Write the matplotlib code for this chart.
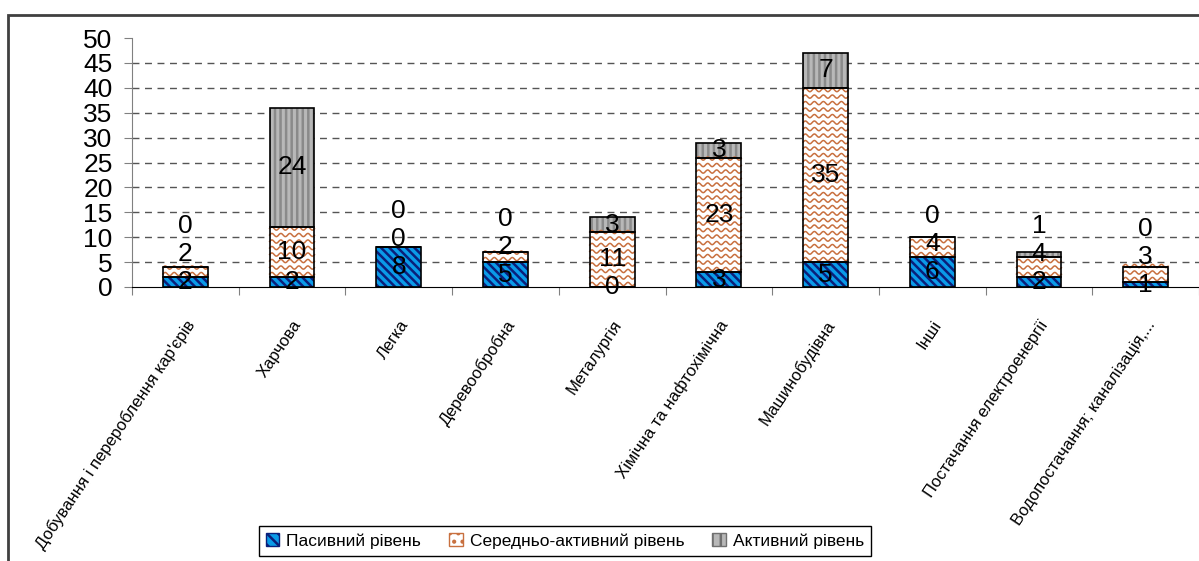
import numpy as np
import matplotlib.pyplot as plt
from matplotlib.patches import Patch, Rectangle

plt.rcParams['font.family'] = ['Liberation Sans', 'DejaVu Sans']
plt.rcParams['hatch.linewidth'] = 1.8

# chart data
categories = ["Добування і перероблення кар'єрів", "Харчова", "Легка", "Деревообробна",
              "Металургія", "Хімічна та нафтохімічна", "Машинобудівна", "Інші",
              "Постачання електроенергії", "Водопостачання; каналізація,..."]
passive = [2, 2, 8, 5, 0, 3, 5, 6, 2, 1]
medium = [2, 10, 0, 2, 11, 23, 35, 4, 4, 3]
active = [0, 24, 0, 0, 3, 3, 7, 0, 1, 0]
series_names = ['Пасивний рівень', 'Середньо-активний рівень', 'Активний рівень']

W, H = 1199, 561
fig = plt.figure(figsize=(W / 100, H / 100), dpi=100)
ax_l, ax_r, ax_t, ax_b = 132, 1199, 38, 287
ax = fig.add_axes([ax_l / W, 1 - ax_b / H, (ax_r - ax_l) / W, (ax_b - ax_t) / H])

# outer frame of the chart area
fig.add_artist(Rectangle((8 / W, -0.05), 1.0, 1 - 15 / H + 0.05, fill=False,
                         lw=2, ec='#404040', transform=fig.transFigure, clip_on=False))

x = np.arange(len(categories))
bw = 0.42
passive = np.array(passive)
medium = np.array(medium)
active = np.array(active)
bottom2 = passive
bottom3 = passive + medium

blue, navy = '#0A9BE8', '#0A1F7A'
wave_col = '#C8703F'

ax.bar(x, passive, bw, color=blue, edgecolor=navy, hatch='\\\\\\\\', linewidth=0, zorder=2)
mid_bars = ax.bar(x, medium, bw, bottom=bottom2, color='white', linewidth=0, zorder=2)
ax.bar(x, active, bw, bottom=bottom3, color='#B8B8B8', edgecolor='#8A8A8A',
       hatch='|||', linewidth=0, zorder=2)

# wavy texture for the middle segments
px_x = (ax_r - ax_l) / 10
px_y = (ax_b - ax_t) / 50
for rect in mid_bars:
    x0, y0 = rect.get_x(), rect.get_y()
    w, h = rect.get_width(), rect.get_height()
    if h <= 0:
        continue
    xs = np.linspace(x0, x0 + w, 80)
    phase = 2 * np.pi * (xs - x0) * px_x / 9.0
    for yy in np.arange(y0 + 3 / px_y, y0 + h + 2 / px_y, 6.5 / px_y):
        ax.plot(xs, yy + 1.6 / px_y * np.sin(phase), color=wave_col, lw=1.1,
                zorder=2.5, clip_path=rect)

# outlines
for vals, bot in [(passive, 0), (medium, bottom2), (active, bottom3)]:
    ax.bar(x, vals, bw, bottom=bot, fill=False, edgecolor='black', lw=1.2, zorder=3)

# data labels, pushed up when they overlap
min_gap = 5.6
for i in range(len(x)):
    vals = [passive[i], medium[i], active[i]]
    bots = [0, bottom2[i], bottom3[i]]
    pos = [b + v / 2 for b, v in zip(bots, vals)]
    for k in range(1, 3):
        if pos[k] - pos[k - 1] < min_gap:
            pos[k] = pos[k - 1] + min_gap
    for v, p in zip(vals, pos):
        ax.text(x[i], p, str(v), ha='center', va='center', fontsize=19, zorder=5)

# grid
ax.hlines(np.arange(5, 50, 5), -0.5, 9.5, colors='#555555',
          linestyles=(0, (5, 4)), lw=1, zorder=1)

ax.set_xlim(-0.5, 9.5)
ax.set_ylim(0, 50)
ax.set_yticks(np.arange(0, 51, 5))
ax.tick_params(axis='y', direction='out', length=6, labelsize=19, color='#808080', pad=8)
ax.set_xticks(np.arange(-0.5, 10, 1))
ax.set_xticklabels([])
ax.set_xticks(x, minor=True)
ax.set_xticklabels(categories, minor=True, rotation=56, ha='right',
                   rotation_mode='anchor', fontsize=12)
ax.tick_params(axis='x', which='major', direction='out', length=6, color='#808080')
ax.tick_params(axis='x', which='minor', length=0, pad=22)
for s in ['top', 'right']:
    ax.spines[s].set_visible(False)
ax.spines['left'].set_color('#808080')
ax.spines['bottom'].set_color('black')

handles = [Patch(facecolor=blue, edgecolor=navy, hatch='\\\\\\'),
           Patch(facecolor='white', edgecolor=wave_col, hatch='..'),
           Patch(facecolor='#B8B8B8', edgecolor='#707070', hatch='||')]
leg = fig.legend(handles, series_names, loc='center', bbox_to_anchor=(565 / W, 1 - 541 / H),
                 ncol=3, frameon=True, fancybox=False, edgecolor='black', framealpha=1,
                 fontsize=12.5, handlelength=0.8, handleheight=0.8, columnspacing=1.6,
                 handletextpad=0.4, borderpad=0.4)
leg.get_frame().set_linewidth(1)
leg.set_zorder(10)

fig.savefig('out.png', dpi=100)
